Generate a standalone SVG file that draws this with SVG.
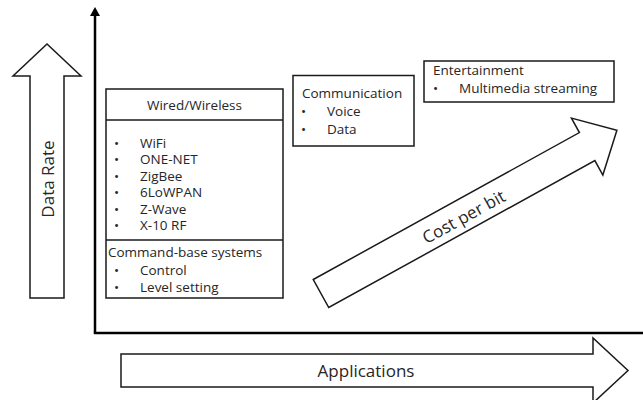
<svg xmlns="http://www.w3.org/2000/svg" width="643" height="400" viewBox="0 0 643 400">
<style>
.box{fill:#fff;stroke:#1a1a1a;stroke-width:1.5}
.arr{fill:#fff;stroke:#1a1a1a;stroke-width:1.5;stroke-linejoin:miter}
.t{font-family:"Open Sans","DejaVu Sans",sans-serif;font-size:13.5px;fill:#262626}
.big{font-family:"Open Sans","DejaVu Sans",sans-serif;font-size:17px;fill:#262626}
.axis{stroke:#000;stroke-width:2.5;fill:none}
</style>
<rect width="643" height="400" fill="#fff"/>
<g id="connectors">
<line class="axis" x1="95" y1="333" x2="95" y2="16"/>
<path d="M90,16 L95,7 L100,16 Z" fill="#000"/>
<line class="axis" x1="93.8" y1="333" x2="643" y2="333"/>
</g>
<g id="data-rate">
<polygon class="arr" points="30,298 64,298 64,76 81,76 47,44 13,76 30,76"/>
<text class="big" font-size="15.6" x="47" y="179" text-anchor="middle" dominant-baseline="central" transform="rotate(-90 47 179)">Data Rate</text>
</g>
<g id="applications">
<polygon class="arr" points="121,354 593,354 593,338 628,370.5 593,403 593,387 121,387"/>
<text class="big" x="366" y="376.5" text-anchor="middle">Applications</text>
</g>
<g id="cost-per-bit" transform="translate(321,293.5) rotate(-28.9)">
<polygon class="arr" points="0,-16 304,-16 304,-32.5 338,0 304,32.5 304,16 0,16"/>
<text class="big" x="162" y="8" text-anchor="middle">Cost per bit</text>
</g>
<g id="wired-wireless">
<rect class="box" x="106" y="89" width="177" height="209"/>
<line class="box" x1="106" y1="120" x2="283" y2="120"/>
<line class="box" x1="106" y1="240" x2="283" y2="240"/>
<text class="t" x="194.5" y="110" text-anchor="middle">Wired/Wireless</text>
<g class="t">
<text x="114" y="148">•</text><text x="140" y="148">WiFi</text>
<text x="114" y="164.4">•</text><text x="140" y="164.4">ONE-NET</text>
<text x="114" y="180.8">•</text><text x="140" y="180.8">ZigBee</text>
<text x="114" y="197.2">•</text><text x="140" y="197.2">6LoWPAN</text>
<text x="114" y="213.6">•</text><text x="140" y="213.6">Z-Wave</text>
<text x="114" y="230">•</text><text x="140" y="230">X-10 RF</text>
<text x="108" y="257">Command-base systems</text>
<text x="114" y="275">•</text><text x="140" y="275">Control</text>
<text x="114" y="292">•</text><text x="140" y="292">Level setting</text>
</g>
</g>
<g id="communication">
<rect class="box" x="293" y="75.5" width="121" height="70.5"/>
<g class="t">
<text x="302" y="98">Communication</text>
<text x="301" y="116">•</text><text x="327" y="116">Voice</text>
<text x="301" y="134">•</text><text x="327" y="134">Data</text>
</g>
</g>
<g id="entertainment">
<rect class="box" x="424" y="61" width="190" height="41"/>
<g class="t">
<text x="433" y="75">Entertainment</text>
<text x="433" y="93">•</text><text x="459" y="93">Multimedia streaming</text>
</g>
</g>
</svg>
